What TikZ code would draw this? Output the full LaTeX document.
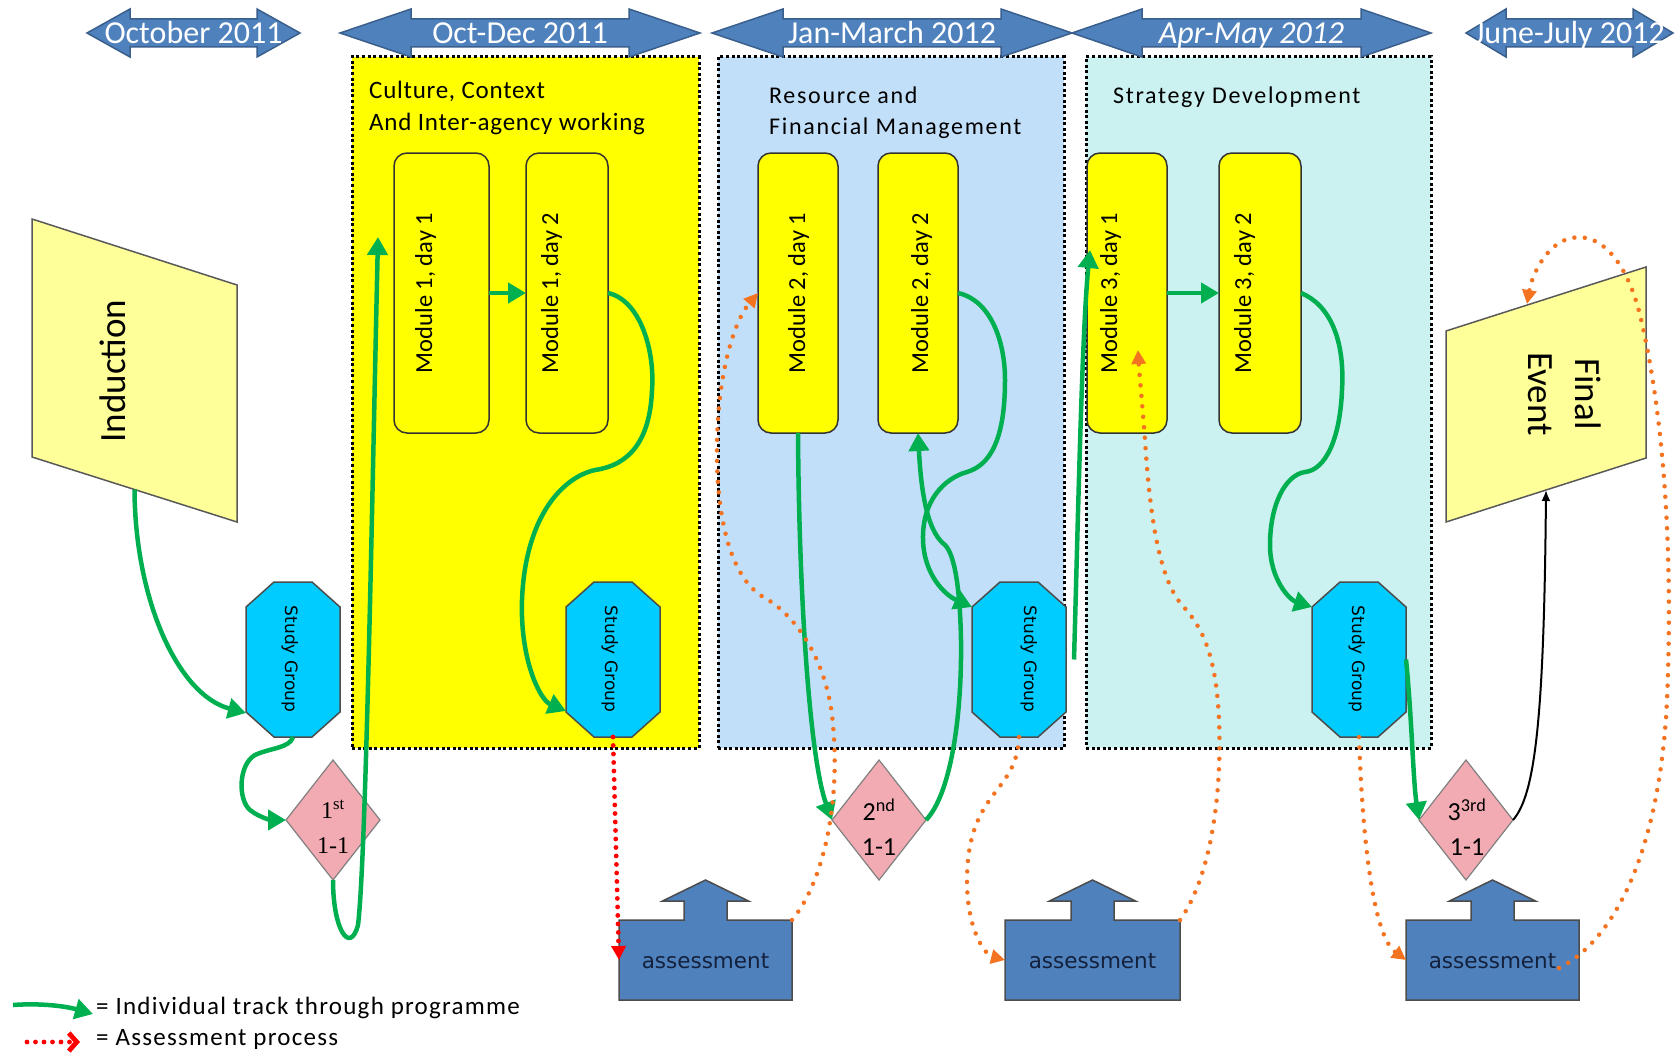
\documentclass[tikz,border=0pt]{standalone}
\usepackage{fontspec}
\setmainfont{Carlito}
\newfontfamily\djvfont{DejaVu Sans}
\newfontfamily\serffont{Liberation Serif}
\newfontfamily\titlefont[LetterSpace=3]{Carlito}
\newfontfamily\titlefontw[LetterSpace=7]{Carlito}
\newfontfamily\legfont[LetterSpace=5]{Carlito}
\usetikzlibrary{arrows.meta,shapes.geometric,calc}

\definecolor{arrblue}{HTML}{4F81BD}
\definecolor{arrline}{HTML}{3A5F8C}
\definecolor{pyellow}{HTML}{FFFF00}
\definecolor{pblue}{HTML}{C2DFF9}
\definecolor{pteal}{HTML}{CBF1F0}
\definecolor{indfill}{HTML}{FFFF99}
\definecolor{sgcyan}{HTML}{00CCFF}
\definecolor{dpink}{HTML}{F2ABB2}
\definecolor{tgreen}{HTML}{00B050}
\definecolor{torange}{HTML}{F47320}
\definecolor{asstext}{HTML}{14213D}

\pgfdeclarelayer{panels}
\pgfdeclarelayer{shapesl}
\pgfsetlayers{panels,shapesl,main}

\newcommand{\topdbl}[3]{\draw[tarrow] (#1,33) -- ({#1+#3},9) -- ({#1+#3},19) -- ({#2-#3},19) -- ({#2-#3},9) -- (#2,33) -- ({#2-#3},57) -- ({#2-#3},47) -- ({#1+#3},47) -- ({#1+#3},57) -- cycle;}
\newcommand{\mysgoct}[1]{\draw[sgshape] ($(#1.north west)+(28,0)$) -- ($(#1.north east)+(-28,0)$) -- ($(#1.north east)+(0,25)$) -- ($(#1.south east)+(0,-25)$) -- ($(#1.south east)+(-28,0)$) -- ($(#1.south west)+(28,0)$) -- ($(#1.south west)+(0,-25)$) -- ($(#1.north west)+(0,25)$) -- cycle;}
\newcommand{\myassess}[1]{\draw[asshape] (#1.south west) -- (#1.north west) -- ($(#1.north)+(-21.5,0)$) -- ($(#1.north)+(-21.5,-19)$) -- ($(#1.north)+(-43,-19)$) -- ($(#1.north)+(0,-40)$) -- ($(#1.north)+(43,-19)$) -- ($(#1.north)+(21.5,-19)$) -- ($(#1.north)+(21.5,0)$) -- (#1.north east) -- (#1.south east) -- cycle;}

\tikzset{
 panelnode/.style={draw=black, line width=3pt, dash pattern=on 3pt off 2.6pt, inner sep=0pt, outer sep=0pt},
 tarrow/.style={draw=arrline, line width=1.5pt, fill=arrblue, line join=miter},
 ttext/.style={anchor=base, text=white, font=\fontsize{32}{38}\selectfont, inner sep=0pt},
 ptitle/.style={anchor=base west, inner sep=0pt, font=\titlefont\fontsize{25}{30}\selectfont},
 ptitlew/.style={anchor=base west, inner sep=0pt, font=\titlefontw\fontsize{24}{30}\selectfont},
 module/.style={draw=black!80, line width=1.5pt, fill=pyellow, rounded corners=13pt, minimum height=280pt, inner sep=0pt, outer sep=0pt},
 modtext/.style={rotate=90, anchor=base, inner sep=0pt, font=\fontsize{24.5}{29}\selectfont},
 sgbox/.style={minimum width=94pt, minimum height=155pt, inner sep=0pt, outer sep=0pt},
 sgshape/.style={draw=black!70, line width=1.5pt, fill=sgcyan},
 sgtext/.style={rotate=-90, anchor=base, inner sep=0pt, font=\djvfont\fontsize{17}{20}\selectfont},
 dshape/.style={diamond, draw=black!50, line width=1.2pt, fill=dpink, minimum width=94pt, minimum height=120pt, inner sep=0pt, outer sep=0pt},
 dtext/.style={align=center, inner sep=0pt},
 asbox/.style={minimum height=80pt, inner sep=0pt, outer sep=0pt},
 asshape/.style={draw=black!70, line width=1.5pt, fill=arrblue},
 astext/.style={anchor=base, inner sep=0pt, text=asstext, font=\djvfont\fontsize{21.5}{26}\selectfont},
 pgbox/.style={inner sep=0pt, outer sep=0pt},
 pgshape/.style={draw=black!65, line width=1.5pt, fill=indfill},
 gpath/.style={draw=tgreen, line width=4.5pt, -{Triangle[length=18pt,width=20pt]}},
 opath/.style={draw=torange, line width=4.5pt, line cap=round, dash pattern=on 0pt off 10.5pt, -{Triangle[length=14pt,width=14pt]}},
 rpath/.style={draw=red, line width=4.8pt, line cap=round, dash pattern=on 0pt off 8.5pt, -{Triangle[length=14pt,width=14pt]}},
 bpath/.style={draw=black, line width=2pt, -{Latex[length=11pt,width=9pt]}},
 legtext/.style={anchor=base west, inner sep=0pt, font=\legfont\fontsize{25}{30}\selectfont},
}

\begin{document}
\begin{tikzpicture}[x=1pt,y=-1pt]
\useasboundingbox (0,0) rectangle (1675,1054);

% ---------- panels ----------
\begin{pgfonlayer}{panels}
\fill[white] (0,0) rectangle (1675,1054);
\node[panelnode, fill=pyellow, minimum width=347pt, minimum height=691pt] (P1) at (525.5,402.5) {};
\node[panelnode, fill=pblue, minimum width=346pt, minimum height=691pt] (P2) at (891,402.5) {};
\node[panelnode, fill=pteal, minimum width=345pt, minimum height=691pt] (P3) at (1258.5,402.5) {};
\end{pgfonlayer}

% ---------- invisible anchor nodes ----------
\node[sgbox] (SG1) at (293,659.5) {};
\node[sgbox] (SG2) at (613,659.5) {};
\node[sgbox] (SG3) at (1019,659.5) {};
\node[sgbox] (SG4) at (1359,659.5) {};
\node[asbox, minimum width=173pt] (A1) at (705.5,960) {};
\node[asbox, minimum width=175pt] (A2) at (1092.5,960) {};
\node[asbox, minimum width=173pt] (A3) at (1492.5,960) {};
\node[pgbox, minimum width=205pt, minimum height=237.5pt] (IND) at (134.5,370.75) {};
\node[pgbox, minimum width=200pt, minimum height=191pt] (FE) at (1546,394.5) {};

% ---------- shapes ----------
\begin{pgfonlayer}{shapesl}
\topdbl{87}{300}{43}
\topdbl{340}{700}{71}
\topdbl{712}{1072}{71}
\topdbl{1072}{1431}{70}
\topdbl{1466}{1673}{40}
\mysgoct{SG1}
\mysgoct{SG2}
\mysgoct{SG3}
\mysgoct{SG4}
\myassess{A1}
\myassess{A2}
\myassess{A3}
\draw[pgshape] (32,219) -- (237,285) -- (237,522) -- (32,457) -- cycle;
\draw[pgshape] (1446,331) -- (1646,267) -- (1646,458) -- (1446,522) -- cycle;
\end{pgfonlayer}

% ---------- top labels ----------
\node[ttext] (T1) at (193.5,44) {October 2011};
\node[ttext] (T2) at (520,44) {Oct-Dec 2011};
\node[ttext] (T3) at (892,44) {Jan-March 2012};
\node[ttext, font=\fontsize{32}{38}\selectfont\itshape] (T4) at (1251.5,44) {Apr-May 2012};
\node[ttext] (T5) at (1569.5,44) {June-July 2012};

% ---------- panel titles ----------
\node[ptitle] (P1a) at (369,99) {Culture, Context};
\node[ptitle] (P1b) at (369,131) {And Inter-agency working};
\node[ptitlew] (P2a) at (769,104) {Resource and};
\node[ptitlew] (P2b) at (769,135) {Financial Management};
\node[ptitlew] (P3a) at (1113,104) {Strategy Development};

% ---------- modules ----------
\node[module, minimum width=95pt] (M1d1) at (441.5,293) {};
\node[module, minimum width=82pt] (M1d2) at (567,293) {};
\node[module, minimum width=80pt] (M2d1) at (798,293) {};
\node[module, minimum width=80pt] (M2d2) at (918,293) {};
\node[module, minimum width=80pt] (M3d1) at (1127,293) {};
\node[module, minimum width=82pt] (M3d2) at (1260,293) {};
\node[modtext] (M1d1t) at (432,293) {Module 1, day 1};
\node[modtext] (M1d2t) at (558,293) {Module 1, day 2};
\node[modtext] (M2d1t) at (805,293) {Module 2, day 1};
\node[modtext] (M2d2t) at (928,293) {Module 2, day 2};
\node[modtext] (M3d1t) at (1117,293) {Module 3, day 1};
\node[modtext] (M3d2t) at (1251,293) {Module 3, day 2};

% ---------- other texts ----------
\node[rotate=90, anchor=base, inner sep=0pt, font=\fontsize{37}{44}\selectfont] (INDt) at (125,371) {Induction};
\node[rotate=-90, align=center, inner sep=0pt, font=\fontsize{37}{47}\selectfont] (FEt) at (1565,394) {Final\\Event};
\node[sgtext] (SG1t) at (285,659) {Study Group};
\node[sgtext] (SG2t) at (605,659) {Study Group};
\node[sgtext] (SG3t) at (1024,659) {Study Group};
\node[sgtext] (SG4t) at (1352,659) {Study Group};
\node[astext] (A1t) at (705.5,968) {assessment};
\node[astext] (A2t) at (1092.5,968) {assessment};
\node[astext] (A3t) at (1492.5,968) {assessment};

% ---------- diamonds ----------
\node[dshape] (D1) at (333,820) {};
\node[dshape] (D2) at (879,820) {};
\node[dshape] (D3) at (1466,820) {};
\node[dtext, font=\serffont\fontsize{24}{35}\selectfont] (D1t) at (333,827) {1\textsuperscript{st}\\1-1};
\node[dtext, font=\fontsize{26}{35}\selectfont] (D2t) at (879,827) {2\textsuperscript{nd}\\1-1};
\node[dtext, font=\fontsize{26}{35}\selectfont] (D3t) at (1467,827) {3\textsuperscript{3rd}\\1-1};

% ---------- free-end coordinates ----------
\coordinate (G3end) at (378,237);
\coordinate (G9end) at (1090,250);
\coordinate (O3end) at (1138,350);
\coordinate (O5start) at (1559,968);
\coordinate (FEtop) at (1527,304);
\coordinate (LG1) at (13,1005);
\coordinate (LG2) at (93,1014);
\coordinate (LR1) at (27,1042);
\coordinate (LR2) at (80,1042);

% ---------- green track ----------
\draw[gpath] (IND.south) .. controls (135,600) and (178,695) .. ($(SG1.south west)+(0,-24)$);
\draw[gpath] (SG1.south) .. controls (290,748) and (270,748) .. (255,755) .. controls (238,765) and (238,800) .. (250,810) .. controls (260,818) and (272,820) .. (D1.west);
\draw[gpath] (D1.south) .. controls (333,930) and (350,955) .. (358,925) .. controls (366,860) and (372,500) .. (G3end);
\draw[gpath] (M1d1.east) -- (M1d2.west);
\draw[gpath] (M1d2.east) .. controls (640,300) and (655,350) .. (652,390) .. controls (650,440) and (630,465) .. (595,470) .. controls (560,478) and (525,520) .. (522,600) .. controls (520,660) and (540,700) .. ($(SG2.south west)+(0,-26)$);
\draw[gpath] (M2d1.south) .. controls (799,600) and (810,760) .. (D2.west);
\draw[gpath] (D2.east) .. controls (950,795) and (962,720) .. (961,640) .. controls (960,590) and (955,555) .. (945,545) .. controls (932,535) and (922,510) .. (M2d2.south);
\draw[gpath] (M2d2.east) .. controls (990,300) and (1005,340) .. (1005,380) .. controls (1005,440) and (990,465) .. (967,472) .. controls (945,478) and (922,500) .. (923,540) .. controls (924,575) and (945,595) .. ($(SG3.north west)+(0,25)$);
\draw[gpath] ($(SG3.east)+(8,0)$) .. controls (1078,520) and (1082,330) .. (G9end);
\draw[gpath] (M3d1.east) -- (M3d2.west);
\draw[gpath] (M3d2.east) .. controls (1330,305) and (1345,340) .. (1342,390) .. controls (1340,440) and (1325,470) .. (1305,472) .. controls (1285,475) and (1270,505) .. (1270,545) .. controls (1270,580) and (1290,600) .. ($(SG4.north west)+(0,25)$);
\draw[gpath] (SG4.east) .. controls (1412,720) and (1413,780) .. (D3.west);
\draw[bpath] (D3.east) .. controls (1535,795) and (1544,720) .. (FE.south);

% ---------- assessment process ----------
\draw[rpath] (SG2.south) -- (A1.west);
\draw[opath] (A1.north east) .. controls (825,880) and (840,800) .. (833,725) .. controls (828,660) and (795,615) .. (765,598) .. controls (728,578) and (716,510) .. (717,445) .. controls (718,370) and (735,320) .. (M2d1.west);
\draw[opath] (SG3.south) .. controls (1017,790) and (975,790) .. (968,860) .. controls (962,925) and (985,955) .. (A2.west);
\draw[opath] (A2.north east) .. controls (1212,875) and (1222,790) .. (1219,720) .. controls (1216,650) and (1200,625) .. (1182,605) .. controls (1160,580) and (1150,520) .. (1145,440) .. controls (1142,400) and (1139,370) .. (O3end);
\draw[opath] (SG4.south) .. controls (1362,830) and (1372,935) .. (A3.west);
\draw[opath] (O5start) .. controls (1615,940) and (1660,850) .. (1667,700) .. controls (1673,560) and (1665,420) .. (1640,315) .. controls (1625,255) and (1595,228) .. (1565,240) .. controls (1545,248) and (1532,275) .. (FEtop);

% ---------- legend ----------
\draw[gpath] (LG1) .. controls (40,1003) and (65,1006) .. (LG2);
\draw[draw=red, line width=4.8pt, line cap=round, dash pattern=on 0pt off 8.5pt, -{Straight Barb[length=8pt,width=18pt]}] (LR1) -- (LR2);
\node[legtext] (L1) at (96,1014) {= Individual track through programme};
\node[legtext] (L2) at (96,1045) {= Assessment process};
\end{tikzpicture}
\end{document}
